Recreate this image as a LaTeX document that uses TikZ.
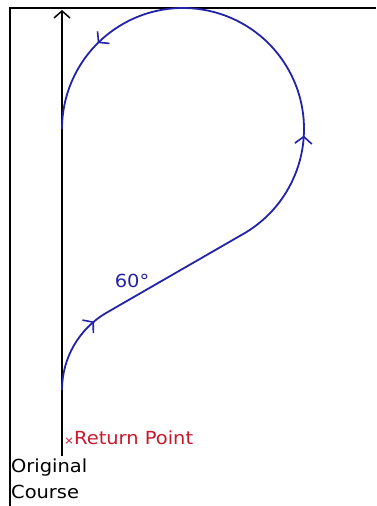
\documentclass[tikz,border=0pt]{standalone}
\usepackage{fontspec}
\newfontfamily\lblfont[FakeStretch=1.08]{DejaVu Sans}
\usetikzlibrary{arrows.meta,decorations.markings}
\definecolor{pathblue}{RGB}{35,35,170}
\definecolor{retred}{RGB}{200,25,45}
\tikzset{
  lbl/.style={inner sep=0pt,font=\lblfont\fontsize{18}{20}\selectfont},
  midbarb/.tip={Straight Barb[length=7pt,width=17pt,line width=1.6pt]},
  course/.style={draw=pathblue,line width=1.8pt,
    postaction={decorate,decoration={markings,
      mark=at position 0.103 with {\arrow[pathblue]{midbarb}},
      mark=at position 0.49 with {\arrow[pathblue]{midbarb}},
      mark=at position 0.874 with {\arrow[pathblue]{midbarb}}}}}
}
\begin{document}
\begin{tikzpicture}[x=1pt,y=1pt]
\useasboundingbox (0,0) rectangle (376,506);
\fill[white] (0,0) rectangle (376,506);
% frame
\draw[line width=2pt] (10,0) -- (10,498) -- (376,498);
% original course axis
\coordinate (axb) at (62,50);
\coordinate (axt) at (62,496);
\draw[line width=2pt,-{Straight Barb[length=7pt,width=16pt,line width=1.5pt]}] (axb) -- (axt);
% turn path
\coordinate (S) at (62,116);
\coordinate (T) at (243.5,272.2);
\path[course] (S) arc[start angle=180,end angle=120,radius=89.3] -- (T)
  arc[start angle=-60,end angle=180,radius=121];
% labels
\node[lbl,text=pathblue] (ang) at (132,225) {60°};
\node[lbl,text=retred,anchor=base west] (rp) at (64,61) {{\fontsize{11}{11}\selectfont ×}Return Point};
\node[lbl,anchor=base west] (oc1) at (11,33) {Original};
\node[lbl,anchor=base west] (oc2) at (11,8) {Course};
\end{tikzpicture}
\end{document}
